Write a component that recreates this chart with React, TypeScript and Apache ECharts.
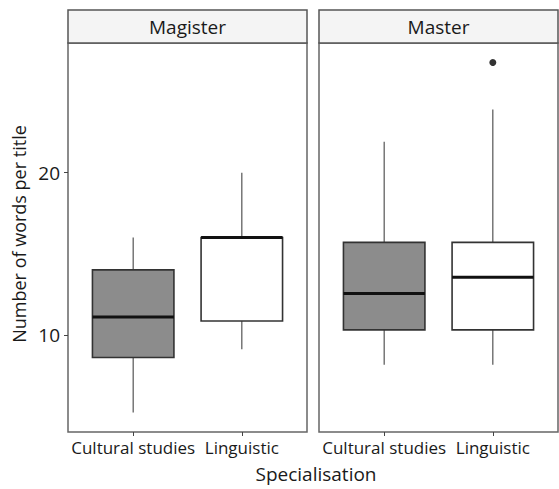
import React, { useEffect, useRef } from "react";
import * as echarts from "echarts";

const facets = ["Magister", "Master"];
const categories = ["Cultural studies", "Linguistic"];
const categoryFills = ["#8c8c8c", "#ffffff"];
// [min, q1, median, q3, max]
const magisterStats = [
  [5.2, 8.6, 11.1, 14.0, 16.0],
  [9.1, 10.85, 16.0, 16.0, 20.0],
];
const masterStats = [
  [8.15, 10.3, 12.55, 15.7, 21.9],
  [8.15, 10.3, 13.55, 15.7, 23.9],
];
const masterOutliers = [[2, 26.8]];
const yTicks = [10, 20];
const yName = "Number of words per title";
const xName = "Specialisation";

const FONT = "Open Sans";

export default function App() {
  const ref = useRef<HTMLDivElement>(null);
  useEffect(() => {
    if (!ref.current) return;
    const chart = echarts.init(ref.current, null, { renderer: "svg" });
    const grids = [
      { left: 68, top: 43, width: 239, height: 389 },
      { left: 319, top: 43, width: 239, height: 389 },
    ];
    const statsByFacet = [magisterStats, masterStats];

    const renderBox = (params: any, api: any) => {
      const x = api.value(0);
      const lo = api.value(1);
      const q1 = api.value(2);
      const med = api.value(3);
      const q3 = api.value(4);
      const hi = api.value(5);
      const cx = api.coord([x, lo])[0];
      const yLo = api.coord([x, lo])[1];
      const yQ1 = api.coord([x, q1])[1];
      const yMed = api.coord([x, med])[1];
      const yQ3 = api.coord([x, q3])[1];
      const yHi = api.coord([x, hi])[1];
      const w = api.size([0.75, 0])[0];
      const fill = categoryFills[Math.round(x) - 1];
      return {
        type: "group",
        children: [
          { type: "line", shape: { x1: cx, y1: yHi, x2: cx, y2: yQ3 }, style: { stroke: "#555", lineWidth: 1.2 } },
          { type: "line", shape: { x1: cx, y1: yQ1, x2: cx, y2: yLo }, style: { stroke: "#555", lineWidth: 1.2 } },
          {
            type: "rect",
            shape: { x: cx - w / 2, y: yQ3, width: w, height: yQ1 - yQ3 },
            style: { fill, stroke: "#333", lineWidth: 1.6 },
          },
          {
            type: "line",
            shape: { x1: cx - w / 2, y1: yMed, x2: cx + w / 2, y2: yMed },
            style: { stroke: "#111", lineWidth: 3 },
          },
        ],
      };
    };

    const xAxes = grids.map((_, i) => ({
      type: "value",
      gridIndex: i,
      min: 0.4,
      max: 2.6,
      axisLine: { show: false },
      splitLine: { show: false },
      axisTick: { show: true, customValues: [1, 2], length: 4, lineStyle: { color: "#444" } },
      axisLabel: {
        show: true,
        customValues: [1, 2],
        hideOverlap: false,
        formatter: (v: number) => categories[Math.round(v) - 1] || "",
        fontFamily: FONT,
        fontSize: 17,
        color: "#1a1a1a",
        margin: 7,
      },
    }));
    const yAxes = grids.map((_, i) => ({
      type: "value",
      gridIndex: i,
      min: 4,
      max: 28,
      axisLine: { show: false },
      splitLine: { show: false },
      axisTick: { show: i === 0, customValues: yTicks, length: 4, lineStyle: { color: "#444" } },
      axisLabel: {
        show: i === 0,
        customValues: yTicks,
        fontFamily: FONT,
        fontSize: 19,
        color: "#1a1a1a",
        margin: 8,
      },
    }));

    const series: any[] = statsByFacet.map((stats, i) => ({
      type: "custom",
      xAxisIndex: i,
      yAxisIndex: i,
      renderItem: renderBox,
      encode: { x: 0, y: [1, 2, 3, 4, 5] },
      data: stats.map((s, k) => [k + 1, ...s]),
    }));
    series.push({
      type: "scatter",
      xAxisIndex: 1,
      yAxisIndex: 1,
      symbolSize: 7,
      itemStyle: { color: "#000" },
      data: masterOutliers,
    });

    const graphic: any[] = [];
    grids.forEach((g, i) => {
      graphic.push({
        type: "rect",
        shape: { x: g.left, y: 10, width: g.width, height: 33 },
        style: { fill: "#f4f4f4", stroke: "#555", lineWidth: 1.5 },
      });
      graphic.push({
        type: "text",
        x: g.left + g.width / 2,
        y: 26.5,
        style: {
          text: facets[i],
          fontFamily: FONT,
          fontSize: 19,
          fill: "#1a1a1a",
          align: "center",
          verticalAlign: "middle",
        },
      });
    });
    graphic.push({
      type: "text",
      x: 19,
      y: 234,
      rotation: Math.PI / 2,
      style: {
        text: yName,
        fontFamily: FONT,
        fontSize: 18,
        fill: "#1a1a1a",
        align: "center",
        verticalAlign: "middle",
      },
    });
    graphic.push({
      type: "text",
      x: 316,
      y: 474,
      style: {
        text: xName,
        fontFamily: FONT,
        fontSize: 19,
        fill: "#1a1a1a",
        align: "center",
        verticalAlign: "middle",
      },
    });

    chart.setOption({
      animation: false,
      backgroundColor: "#ffffff",
      grid: grids.map((g) => ({
        ...g,
        show: true,
        borderColor: "#666",
        borderWidth: 1.5,
        backgroundColor: "#ffffff",
      })),
      xAxis: xAxes,
      yAxis: yAxes,
      series,
      graphic,
    });
    return () => chart.dispose();
  }, []);
  return (
    <div
      ref={ref}
      style={{ position: "fixed", left: 0, top: 0, width: 559, height: 489 }}
    />
  );
}
